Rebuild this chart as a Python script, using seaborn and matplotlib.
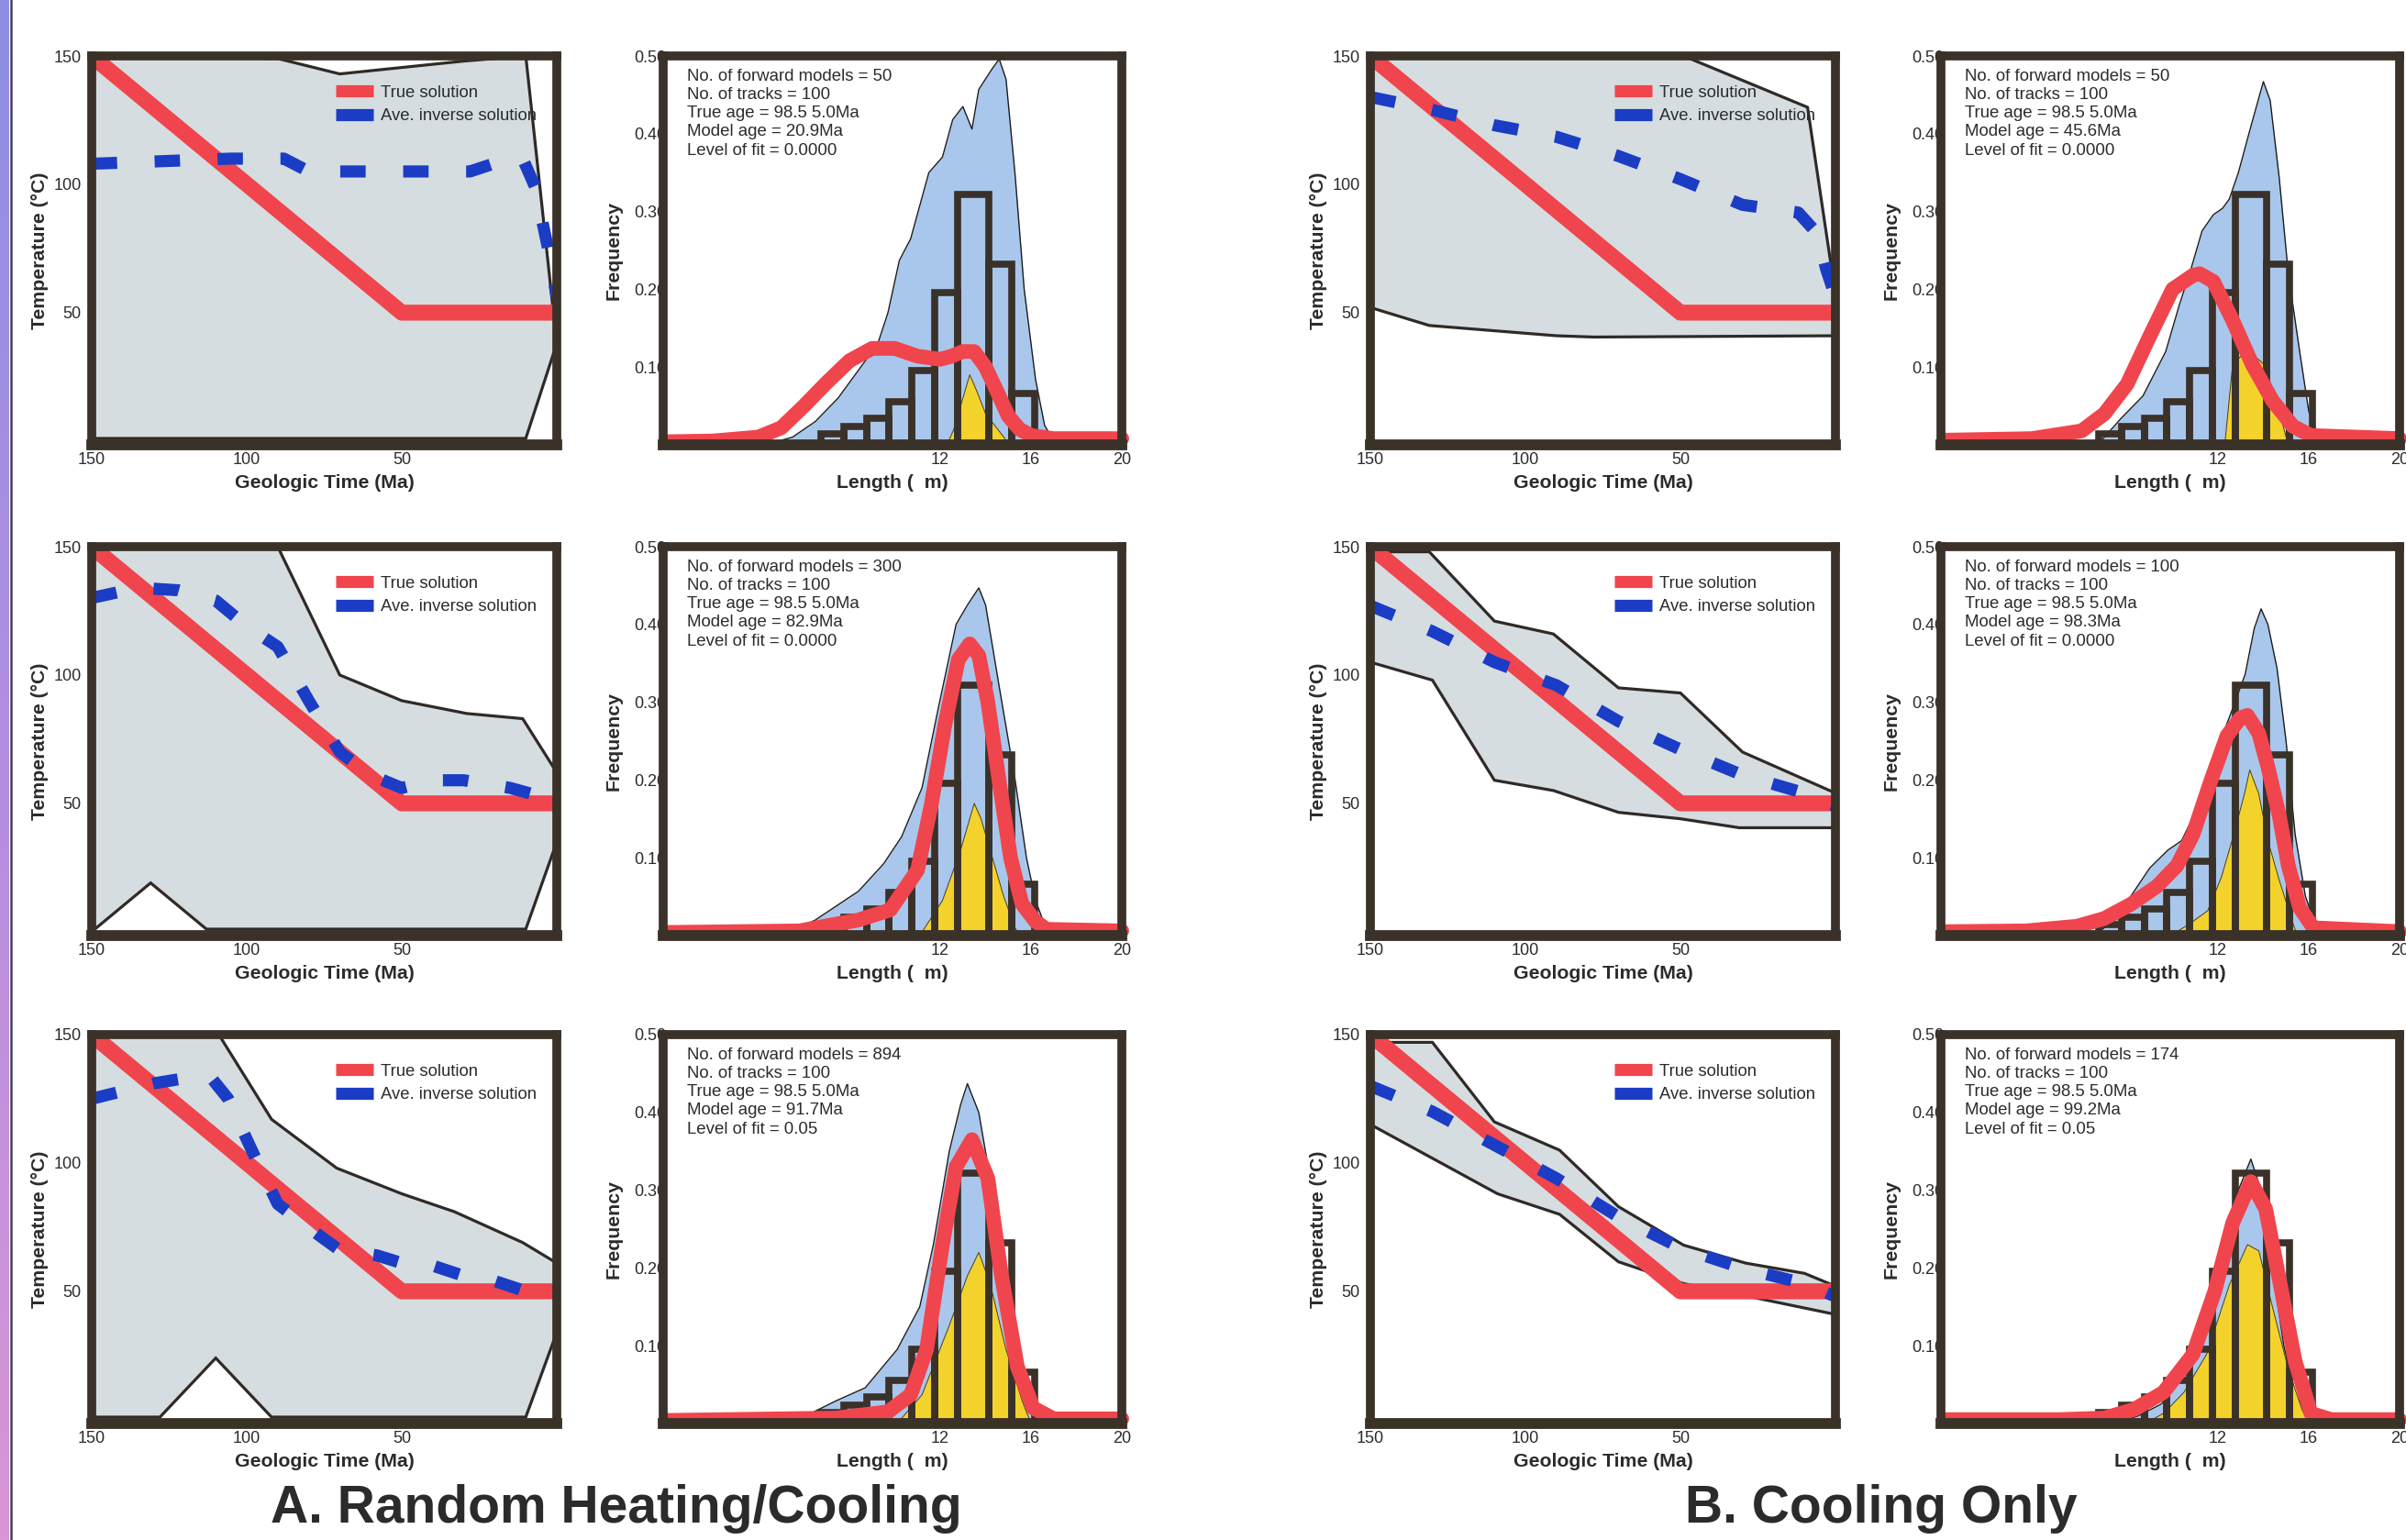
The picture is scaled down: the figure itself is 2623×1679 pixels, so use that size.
import numpy as np
import matplotlib
matplotlib.use("Agg")
import matplotlib.pyplot as plt
from matplotlib.lines import Line2D
from matplotlib.colors import LinearSegmentedColormap
import seaborn as sns

# ---------------- thermal histories (time in Ma, temperature in deg C) ----------------
true_time = [150, 50, 0]
true_temp = [150, 50, 50]

# A. random heating/cooling
A1_env_time = [150, 90, 70, 30, 10, 0, 10, 150]
A1_env_temp = [150, 149, 143, 148, 150, 38, 1, 1]
A1_inv_time = [150, 105, 88, 80, 45, 28, 18, 11, 7, 3, 0]
A1_inv_temp = [108, 110, 110, 105, 105, 105, 109, 110, 99, 76, 56]

A2_env_time = [150, 90, 70, 50, 29, 11, 0, 0, 10, 113, 131, 149, 150]
A2_env_temp = [150, 150, 100, 90, 85, 83, 62, 35, 1, 1, 19, 1, 1]
A2_inv_time = [150, 135, 122, 110, 100, 90, 80, 70, 60, 50, 40, 30, 15, 0]
A2_inv_temp = [130, 134, 133, 129, 119, 111, 90, 70, 61, 56, 59, 59, 56, 51]

A3_env_time = [150, 109, 92, 71, 50, 33, 11, 0, 0, 10, 92, 110, 128, 150]
A3_env_temp = [150, 150, 117, 98, 88, 81, 69, 61, 34, 1, 1, 24, 1, 1]
A3_inv_time = [150, 130, 120, 112, 106, 98, 90, 78, 70, 58, 50, 40, 30, 20, 10, 0]
A3_inv_temp = [125, 131, 133, 134, 125, 104, 84, 73, 66, 64, 61, 60, 56, 54, 50, 49]

# B. cooling only
B1_env_time = [150, 49, 9, 0, 0, 78, 90, 131, 150]
B1_env_temp = [150, 150, 130, 57, 41, 40.5, 41, 45, 52]
B1_inv_time = [150, 130, 110, 90, 70, 50, 30, 12, 6, 3, 0]
B1_inv_temp = [134, 129, 123, 118.5, 111, 102, 92, 89, 81, 67, 56]

B2_env_time = [150, 131, 110, 91, 70, 50, 30, 0, 0, 31, 50, 70, 91, 110, 130, 150]
B2_env_temp = [148, 148, 121, 116, 95, 93, 70, 54, 40.5, 40.5, 44, 46.5, 55, 59, 98, 105]
B2_inv_time = [150, 130, 110, 90, 70, 50, 30, 10, 0]
B2_inv_temp = [127, 117, 105, 96, 82, 71, 61, 54, 49]

B3_env_time = [150, 130, 110, 89, 70, 49, 29, 10, 0, 0, 26, 49, 70, 89, 109, 150]
B3_env_temp = [147, 147, 116, 105, 83, 68, 61, 57, 52, 41, 47.5, 53, 61.5, 80, 88, 115]
B3_inv_time = [150, 130, 110, 90, 70, 50, 30, 10, 0]
B3_inv_temp = [130, 120, 107, 94, 79, 67, 59, 53, 48]

# ---------------- track length distributions (length in micrometres) ----------------
obs_bin_edges = [6.75, 7.75, 8.75, 9.75, 10.75, 11.75, 12.75, 14.15, 15.15, 16.15]
obs_freq = [0.014, 0.024, 0.034, 0.055, 0.096, 0.196, 0.322, 0.232, 0.066]

A1_blue_len = [4.3, 5.5, 6.5, 7.5, 8.5, 9.25, 9.7, 10.2, 10.7, 11.5, 12.1, 12.55, 13.0, 13.4, 13.7, 14.3, 14.6, 14.9, 15.3, 15.7, 16.2, 16.6, 16.9, 17.2]
A1_blue_freq = [0, 0.01, 0.03, 0.06, 0.10, 0.13, 0.17, 0.237, 0.265, 0.35, 0.37, 0.418, 0.435, 0.406, 0.457, 0.484, 0.496, 0.47, 0.347, 0.20, 0.084, 0.025, 0.01, 0]
A1_yel_len = [12.3, 12.6, 13.0, 13.3, 13.6, 14.0, 14.4, 14.8, 15.0]
A1_yel_freq = [0, 0.02, 0.06, 0.09, 0.07, 0.04, 0.025, 0.01, 0]
A1_red_len = [0, 2, 4, 5, 6, 7, 8, 9, 10, 11, 12, 12.5, 13, 13.5, 14, 14.5, 15, 15.5, 16, 17, 20]
A1_red_freq = [0.004, 0.005, 0.01, 0.022, 0.05, 0.08, 0.108, 0.124, 0.124, 0.114, 0.11, 0.114, 0.12, 0.12, 0.10, 0.069, 0.037, 0.02, 0.012, 0.008, 0.008]

A2_blue_len = [5.0, 6.5, 8.4, 9.5, 10.3, 11.2, 11.9, 12.7, 13.2, 13.7, 14.0, 14.6, 15.3, 15.8, 16.2, 16.6, 16.8]
A2_blue_freq = [0, 0.02, 0.057, 0.092, 0.127, 0.19, 0.29, 0.40, 0.425, 0.447, 0.425, 0.32, 0.20, 0.10, 0.045, 0.014, 0]
A2_yel_len = [11.1, 12.1, 12.9, 13.5, 13.8, 14.3, 14.8, 15.3, 15.5]
A2_yel_freq = [0, 0.045, 0.11, 0.17, 0.15, 0.10, 0.05, 0.01, 0]
A2_red_len = [0, 5.8, 8.4, 9.8, 11.0, 11.6, 12.2, 12.8, 13.3, 13.7, 14.1, 14.6, 15.1, 15.6, 16.2, 16.7, 20]
A2_red_freq = [0.004, 0.006, 0.02, 0.033, 0.084, 0.167, 0.27, 0.355, 0.375, 0.36, 0.30, 0.198, 0.10, 0.041, 0.018, 0.008, 0.006]

A3_blue_len = [5.4, 7.4, 8.7, 10.1, 11.1, 11.7, 12.4, 12.9, 13.2, 13.7, 14.2, 14.9, 15.6, 16.2, 16.7, 17.0]
A3_blue_freq = [0, 0.029, 0.046, 0.095, 0.15, 0.23, 0.35, 0.41, 0.437, 0.40, 0.315, 0.18, 0.073, 0.029, 0.01, 0]
A3_yel_len = [10.1, 11.2, 12.4, 13.2, 13.7, 14.2, 14.9, 15.6, 16.0]
A3_yel_freq = [0, 0.037, 0.126, 0.19, 0.22, 0.18, 0.095, 0.03, 0]
A3_red_len = [0, 7.4, 9.7, 10.7, 11.4, 12.1, 12.7, 13.4, 14.1, 14.7, 15.4, 16.1, 17.0, 20]
A3_red_freq = [0.004, 0.007, 0.015, 0.037, 0.095, 0.23, 0.33, 0.365, 0.315, 0.19, 0.073, 0.02, 0.006, 0.006]

B1_blue_len = [6.7, 7.7, 8.7, 9.7, 10.3, 10.8, 11.3, 11.8, 12.2, 12.5, 12.9, 13.4, 14.0, 14.3, 14.7, 15.1, 15.6, 16.0, 16.4, 16.6]
B1_blue_freq = [0, 0.033, 0.063, 0.12, 0.18, 0.225, 0.275, 0.296, 0.304, 0.316, 0.35, 0.404, 0.467, 0.443, 0.343, 0.22, 0.12, 0.043, 0.012, 0]
B1_yel_len = [12.3, 12.65, 13.1, 13.4, 14.0, 14.5, 15.0, 15.2]
B1_yel_freq = [0, 0.104, 0.116, 0.12, 0.104, 0.065, 0.01, 0]
B1_red_len = [0, 3.8, 6.0, 7.0, 8.0, 9.0, 10.0, 10.9, 11.2, 11.8, 12.65, 13.5, 14.4, 15.3, 16.1, 20]
B1_red_freq = [0.006, 0.008, 0.018, 0.04, 0.078, 0.14, 0.20, 0.218, 0.22, 0.21, 0.16, 0.104, 0.057, 0.024, 0.012, 0.008]

B2_blue_len = [6.5, 7.3, 8.15, 9.0, 9.8, 10.4, 10.8, 11.3, 11.85, 12.3, 12.7, 13.2, 13.6, 13.9, 14.2, 14.6, 15.0, 15.4, 15.85, 16.3, 16.5]
B2_blue_freq = [0, 0.016, 0.05, 0.087, 0.11, 0.122, 0.146, 0.19, 0.225, 0.265, 0.296, 0.336, 0.395, 0.42, 0.40, 0.344, 0.25, 0.13, 0.051, 0.012, 0]
B2_yel_len = [9.9, 10.7, 11.55, 12.15, 12.7, 13.2, 13.4, 13.8, 14.2, 14.7, 15.3, 15.5]
B2_yel_freq = [0, 0.014, 0.032, 0.075, 0.13, 0.186, 0.213, 0.182, 0.122, 0.071, 0.016, 0]
B2_red_len = [0, 3.55, 5.8, 7.0, 8.15, 9.3, 10.2, 10.9, 11.7, 12.4, 13.0, 13.3, 13.8, 14.2, 14.7, 15.1, 15.6, 16.2, 20]
B2_red_freq = [0.005, 0.006, 0.012, 0.022, 0.04, 0.063, 0.09, 0.13, 0.20, 0.257, 0.28, 0.283, 0.26, 0.217, 0.154, 0.09, 0.036, 0.01, 0.005]

B3_blue_len = [7.5, 8.5, 9.5, 10.5, 11.5, 12.3, 12.9, 13.45, 13.9, 14.4, 14.9, 15.4, 15.9, 16.2]
B3_blue_freq = [0, 0.01, 0.025, 0.06, 0.12, 0.22, 0.30, 0.34, 0.30, 0.20, 0.10, 0.04, 0.01, 0]
B3_yel_len = [8.8, 9.6, 10.5, 11.5, 12.5, 13.3, 13.8, 14.4, 15.1, 15.7, 16.0]
B3_yel_freq = [0, 0.013, 0.04, 0.089, 0.178, 0.23, 0.222, 0.15, 0.07, 0.018, 0]
B3_red_len = [0, 5.0, 7.0, 8.3, 9.6, 10.9, 11.85, 12.65, 13.45, 14.1, 14.75, 15.4, 16.1, 17.0, 20]
B3_red_freq = [0.005, 0.005, 0.007, 0.018, 0.04, 0.089, 0.169, 0.258, 0.311, 0.276, 0.178, 0.08, 0.013, 0.005, 0.005]

# model statistics printed in each length panel
forward_models = {"A1": 50, "A2": 300, "A3": 894, "B1": 50, "B2": 100, "B3": 174}
model_ages = {"A1": "20.9", "A2": "82.9", "A3": "91.7", "B1": "45.6", "B2": "98.3", "B3": "99.2"}
fit_levels = {"A1": "0.0000", "A2": "0.0000", "A3": "0.05", "B1": "0.0000", "B2": "0.0000", "B3": "0.05"}

# ---------------- style ----------------
RED = "#f0454d"
BLUE = "#1b3cc4"
FRAME = "#3a3129"
ENV_FILL = "#d5dde0"
ENV_EDGE = "#2f2a26"
BLUE_FILL = "#a9c7ec"
YELLOW = "#f4d22c"
TEXT = "#2b2b2b"

TICK_SIZE = 13
LABEL_SIZE = 15.3
LEGEND_SIZE = 13.3
INFO_SIZE = 13.4
TITLE_SIZE = 41

sns.set_style("white")
plt.rcParams["font.family"] = ["Liberation Sans", "DejaVu Sans"]
plt.rcParams["text.color"] = TEXT
plt.rcParams["axes.labelcolor"] = TEXT
plt.rcParams["xtick.color"] = FRAME
plt.rcParams["ytick.color"] = FRAME
plt.rcParams["xtick.labelcolor"] = TEXT
plt.rcParams["ytick.labelcolor"] = TEXT

W, H = 2623, 1679
fig = plt.figure(figsize=(W / 100, H / 100), dpi=100)
fig.patch.set_facecolor("white")


def px_axes(left, top, width, height):
    return fig.add_axes([left / W, 1 - (top + height) / H, width / W, height / H])


def frame(ax):
    for name, sp in ax.spines.items():
        sp.set_visible(True)
        sp.set_color(FRAME)
        sp.set_linewidth(8.5 if name == "bottom" else 7)
        sp.set_capstyle("projecting")
        sp.set_zorder(3)


def draw_history(ax, env_t, env_T, inv_t, inv_T):
    ax.fill(env_t, env_T, color=ENV_FILL, lw=0, zorder=1)
    ax.plot(list(env_t) + [env_t[0]], list(env_T) + [env_T[0]], color=ENV_EDGE,
            lw=2.3, zorder=2, solid_joinstyle="miter")
    sns.lineplot(x=true_time, y=true_temp, ax=ax, color=RED, lw=12.5, sort=False,
                 estimator=None, zorder=2.2, solid_capstyle="butt")
    sns.lineplot(x=inv_t, y=inv_T, ax=ax, color=BLUE, lw=9.5, sort=False,
                 estimator=None, zorder=2.3, linestyle=(0, (2.1, 3.1)),
                 dash_capstyle="butt")
    ax.set_xlim(150, 0)
    ax.set_ylim(-1.5, 150)
    ax.set_xticks([150, 100, 50, 0])
    ax.set_xticklabels(["150", "100", "50", ""])
    ax.set_yticks([0, 50, 100, 150])
    ax.set_yticklabels(["", "50", "100", "150"])
    ax.set_xticks([125, 75, 25], minor=True)
    ax.set_yticks([25, 75, 125], minor=True)
    ax.tick_params(which="both", direction="out", length=3, width=3, labelsize=TICK_SIZE)
    ax.tick_params(axis="x", pad=3)
    ax.tick_params(axis="y", pad=5)
    ax.set_xlabel("Geologic Time (Ma)", fontsize=LABEL_SIZE, fontweight="bold", labelpad=5)
    ax.set_ylabel("Temperature (°C)", fontsize=LABEL_SIZE, fontweight="bold", labelpad=4)
    handles = [Line2D([0], [0], color=RED, lw=9.5, solid_capstyle="butt"),
               Line2D([0], [0], color=BLUE, lw=9.5, solid_capstyle="butt")]
    leg = ax.legend(handles, ["True solution", "Ave. inverse solution"], loc="upper left",
                    bbox_to_anchor=(0.525, 0.925), frameon=False, fontsize=LEGEND_SIZE,
                    handlelength=2.2, handletextpad=0.45, labelspacing=0.45,
                    borderpad=0, borderaxespad=0)
    leg.set_zorder(1.8)
    frame(ax)


def draw_lengths(ax, key, blue_l, blue_f, yel_l, yel_f, red_l, red_f):
    ax.fill_between(blue_l, blue_f, 0, color=BLUE_FILL, lw=0, zorder=1)
    ax.plot(blue_l, blue_f, color="#1c1c1c", lw=1.0, zorder=1.1)
    ax.fill_between(yel_l, yel_f, 0, color=YELLOW, lw=0, zorder=1.2)
    ax.plot(yel_l, yel_f, color="#4a4010", lw=0.7, zorder=1.3)
    centers = [(a + b) / 2 for a, b in zip(obs_bin_edges[:-1], obs_bin_edges[1:])]
    sns.histplot(x=centers, weights=obs_freq, bins=obs_bin_edges, fill=False,
                 color=FRAME, linewidth=5.5, ax=ax, zorder=1.6)
    sns.lineplot(x=red_l, y=red_f, ax=ax, color=RED, lw=11.5, sort=False,
                 estimator=None, zorder=2.2, clip_on=False)
    info = (f"No. of forward models = {forward_models[key]}\n"
            f"No. of tracks = 100\n"
            f"True age = 98.5 5.0Ma\n"
            f"Model age = {model_ages[key]}Ma\n"
            f"Level of fit = {fit_levels[key]}")
    ax.text(0.052, 0.968, info, transform=ax.transAxes, ha="left", va="top",
            fontsize=INFO_SIZE, linespacing=1.25, color=TEXT, zorder=2.5)
    ax.set_xlim(-0.2, 20)
    ax.set_ylim(0, 0.5)
    ax.set_xticks([4, 8, 12, 16, 20])
    ax.set_xticklabels(["", "", "12", "16", "20"])
    ax.set_yticks([0.1, 0.2, 0.3, 0.4, 0.5])
    ax.set_yticklabels(["0.10", "0.20", "0.30", "0.40", "0.50"])
    ax.tick_params(axis="x", direction="out", length=3, width=3, pad=3, labelsize=TICK_SIZE)
    ax.tick_params(axis="y", length=0, pad=-2.5, labelsize=TICK_SIZE)
    ax.set_xlabel("Length (  m)", fontsize=LABEL_SIZE, fontweight="bold", labelpad=5)
    ax.set_ylabel("Frequency", fontsize=LABEL_SIZE, fontweight="bold", labelpad=9)
    frame(ax)


row_tops = [61, 596, 1128]
panel_h = 424
cols = {"A": (100, 723), "B": (1494, 2116)}
hist_data = {
    "A1": (A1_blue_len, A1_blue_freq, A1_yel_len, A1_yel_freq, A1_red_len, A1_red_freq),
    "A2": (A2_blue_len, A2_blue_freq, A2_yel_len, A2_yel_freq, A2_red_len, A2_red_freq),
    "A3": (A3_blue_len, A3_blue_freq, A3_yel_len, A3_yel_freq, A3_red_len, A3_red_freq),
    "B1": (B1_blue_len, B1_blue_freq, B1_yel_len, B1_yel_freq, B1_red_len, B1_red_freq),
    "B2": (B2_blue_len, B2_blue_freq, B2_yel_len, B2_yel_freq, B2_red_len, B2_red_freq),
    "B3": (B3_blue_len, B3_blue_freq, B3_yel_len, B3_yel_freq, B3_red_len, B3_red_freq),
}
history_data = {
    "A1": (A1_env_time, A1_env_temp, A1_inv_time, A1_inv_temp),
    "A2": (A2_env_time, A2_env_temp, A2_inv_time, A2_inv_temp),
    "A3": (A3_env_time, A3_env_temp, A3_inv_time, A3_inv_temp),
    "B1": (B1_env_time, B1_env_temp, B1_inv_time, B1_inv_temp),
    "B2": (B2_env_time, B2_env_temp, B2_inv_time, B2_inv_temp),
    "B3": (B3_env_time, B3_env_temp, B3_inv_time, B3_inv_temp),
}

for col, (tx, hx) in cols.items():
    for r, top in enumerate(row_tops):
        key = f"{col}{r + 1}"
        ax_t = px_axes(tx, top, 507, panel_h)
        draw_history(ax_t, *history_data[key])
        ax_h = px_axes(hx, top, 500, panel_h)
        draw_lengths(ax_h, key, *hist_data[key])

fig.text(672 / W, 1 - 1645 / H, "A. Random Heating/Cooling", ha="center", va="center",
         fontsize=TITLE_SIZE, fontweight="bold", color=TEXT)
fig.text(2051 / W, 1 - 1645 / H, "B. Cooling Only", ha="center", va="center",
         fontsize=TITLE_SIZE, fontweight="bold", color=TEXT)

# binding strip along the left edge of the page
strip = fig.add_axes([0, 0, 10 / W, 1])
strip.imshow(np.linspace(0, 1, 256)[:, None], aspect="auto", origin="upper",
             cmap=LinearSegmentedColormap.from_list("strip", ["#8d8fe4", "#b48ee0", "#d996d6"]),
             extent=[0, 1, 0, 1])
strip.axis("off")
fig.add_artist(Line2D([11.5 / W, 11.5 / W], [0, 1], color="#45405a", lw=1.8,
                      transform=fig.transFigure))

fig.savefig("out.png", dpi=100, facecolor="white")
